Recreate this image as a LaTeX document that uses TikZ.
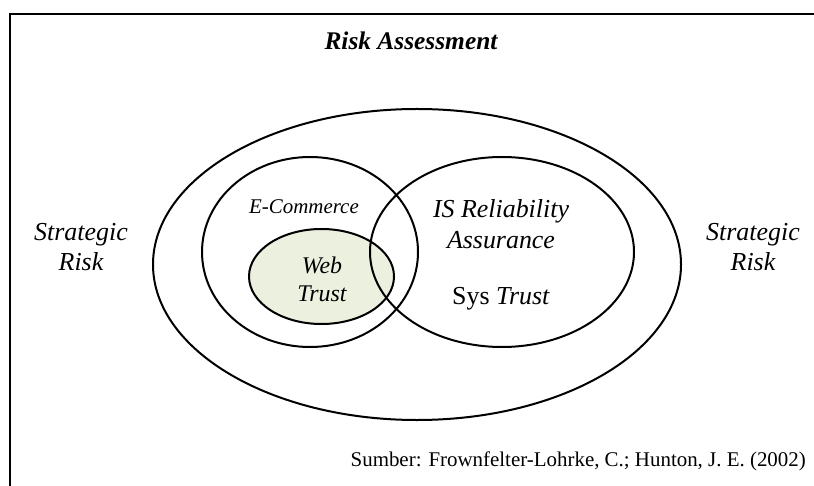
\documentclass[tikz,border=0pt]{standalone}
\usepackage{fontspec}
\setmainfont{Liberation Serif}
\definecolor{webgreen}{HTML}{EBF1DE}
\begin{document}
\begin{tikzpicture}[x=1bp, y=-1bp,
    ring/.style={line width=2bp},
    lbl/.style={align=center, inner sep=0pt},
    big/.style={font=\fontsize{26}{31}\selectfont\itshape}]
\useasboundingbox (0,0) rectangle (814,486);
\clip (0,0) rectangle (814,486);
\draw[line width=2.2bp] (10,14) rectangle (840,520);
% sets
\fill[webgreen] (321.5,276.5) ellipse [x radius=72.5bp, y radius=47.5bp];
\draw[ring] (321.5,276.5) ellipse [x radius=72.5bp, y radius=47.5bp];
\draw[ring] (417,264.5) ellipse [x radius=264bp, y radius=155.5bp];
\draw[ring] (310,252) ellipse [x radius=108bp, y radius=95bp];
\draw[ring] (502,252) ellipse [x radius=132bp, y radius=95bp];
% labels
\node[lbl, font=\fontsize{25.5}{28}\selectfont\bfseries\itshape] (title) at (411,41) {Risk Assessment};
\node[lbl, font=\fontsize{26}{30}\selectfont\itshape] (stratL) at (81,247) {Strategic\\Risk};
\node[lbl, font=\fontsize{26}{30}\selectfont\itshape] (stratR) at (753,247) {Strategic\\Risk};
\node[lbl, font=\fontsize{21}{25}\selectfont\itshape] (ecom) at (304,207) {E-Commerce};
\node[lbl, font=\fontsize{24}{28}\selectfont\itshape] (web) at (322,279) {Web\\Trust};
\node[lbl, big] (isra) at (501,224) {IS Reliability\\Assurance};
\node[lbl, font=\fontsize{26}{31}\selectfont] (sys) at (501,299) {Sys \textit{Trust}};
\node[lbl, anchor=base east, font=\fontsize{21}{25}\selectfont] (src) at (806,466) {Sumber: Frownfelter-Lohrke, C.; Hunton, J. E. (2002)};
\end{tikzpicture}
\end{document}
